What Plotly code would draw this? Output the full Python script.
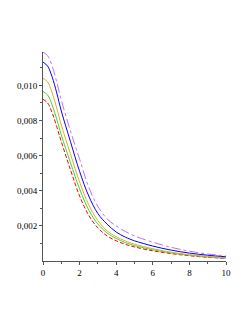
import plotly.graph_objects as go

x_vals = [0, 0.25, 0.5, 0.75, 1.0, 1.5, 2.0, 2.5, 3.0, 3.5, 4.0, 4.5, 5.0, 6.0, 7.0, 8.0, 9.0, 10.0]

red_vals = [0.00921, 0.0090, 0.00844, 0.00765, 0.0068, 0.0052, 0.0037, 0.0026, 0.00188, 0.00143, 0.00115, 0.00095, 0.0008, 0.00058, 0.00042, 0.0003, 0.00021, 0.00015]
green_vals = [0.00965, 0.00945, 0.00888, 0.00808, 0.00717, 0.0056, 0.0041, 0.0029, 0.0021, 0.0016, 0.00128, 0.00105, 0.00088, 0.00064, 0.00046, 0.00033, 0.00023, 0.00016]
orange_vals = [0.01041, 0.0102, 0.00958, 0.00871, 0.00774, 0.0061, 0.0045, 0.0032, 0.0023, 0.00172, 0.00138, 0.00114, 0.00096, 0.0007, 0.0005, 0.00036, 0.00026, 0.00018]
blue_vals = [0.01133, 0.0111, 0.01048, 0.00957, 0.00854, 0.0068, 0.0051, 0.0037, 0.0027, 0.0021, 0.00165, 0.00136, 0.00115, 0.00085, 0.00062, 0.00045, 0.00033, 0.00024]
purple_vals = [0.0119, 0.01169, 0.0111, 0.01019, 0.00917, 0.0074, 0.0058, 0.0042, 0.0031, 0.0024, 0.0020, 0.00168, 0.00143, 0.00107, 0.00078, 0.00056, 0.0004, 0.00029]

x_ticks = [0, 2, 4, 6, 8, 10]
y_ticks = [0.002, 0.004, 0.006, 0.008, 0.010]

series = [
    (red_vals, "#ff0000", "4px,2px"),
    (green_vals, "#33dd33", "solid"),
    (orange_vals, "#e8a830", "solid"),
    (blue_vals, "#0000ff", "solid"),
    (purple_vals, "#c070f0", "dashdot"),
]

fig = go.Figure()
for vals, color, dash in series:
    fig.add_trace(go.Scatter(
        x=x_vals, y=vals, mode="lines",
        line=dict(color=color, width=1, dash=dash, shape="spline", smoothing=1.0),
        showlegend=False, hoverinfo="skip"))

# page body adds an 8px offset, so the figure is sized to compensate
fig.update_layout(
    width=241, height=315,
    margin=dict(l=35, r=23, t=44, b=62),
    plot_bgcolor="white", paper_bgcolor="white",
    separators=",.",
    font=dict(family="Liberation Serif", size=9, color="black"),
)
fig.update_xaxes(
    range=[0, 10], tickvals=x_ticks, ticktext=[str(v) for v in x_ticks],
    automargin=False,
    showline=True, linecolor="#555555", linewidth=1, showgrid=False, zeroline=False,
    ticks="outside", ticklen=3, tickcolor="#555555",
    minor=dict(tickvals=[1, 3, 5, 7, 9], ticks="outside", ticklen=2, tickcolor="#555555"),
)
fig.update_yaxes(
    range=[0, 0.0119], tickvals=y_ticks, tickformat=".3f",
    automargin=False,
    showline=True, linecolor="#555555", linewidth=1, showgrid=False, zeroline=False,
    ticks="outside", ticklen=3, tickcolor="#555555",
    minor=dict(tickvals=[0.001, 0.003, 0.005, 0.007, 0.009, 0.011], ticks="outside", ticklen=2, tickcolor="#555555"),
)

fig.write_html("out.html")
